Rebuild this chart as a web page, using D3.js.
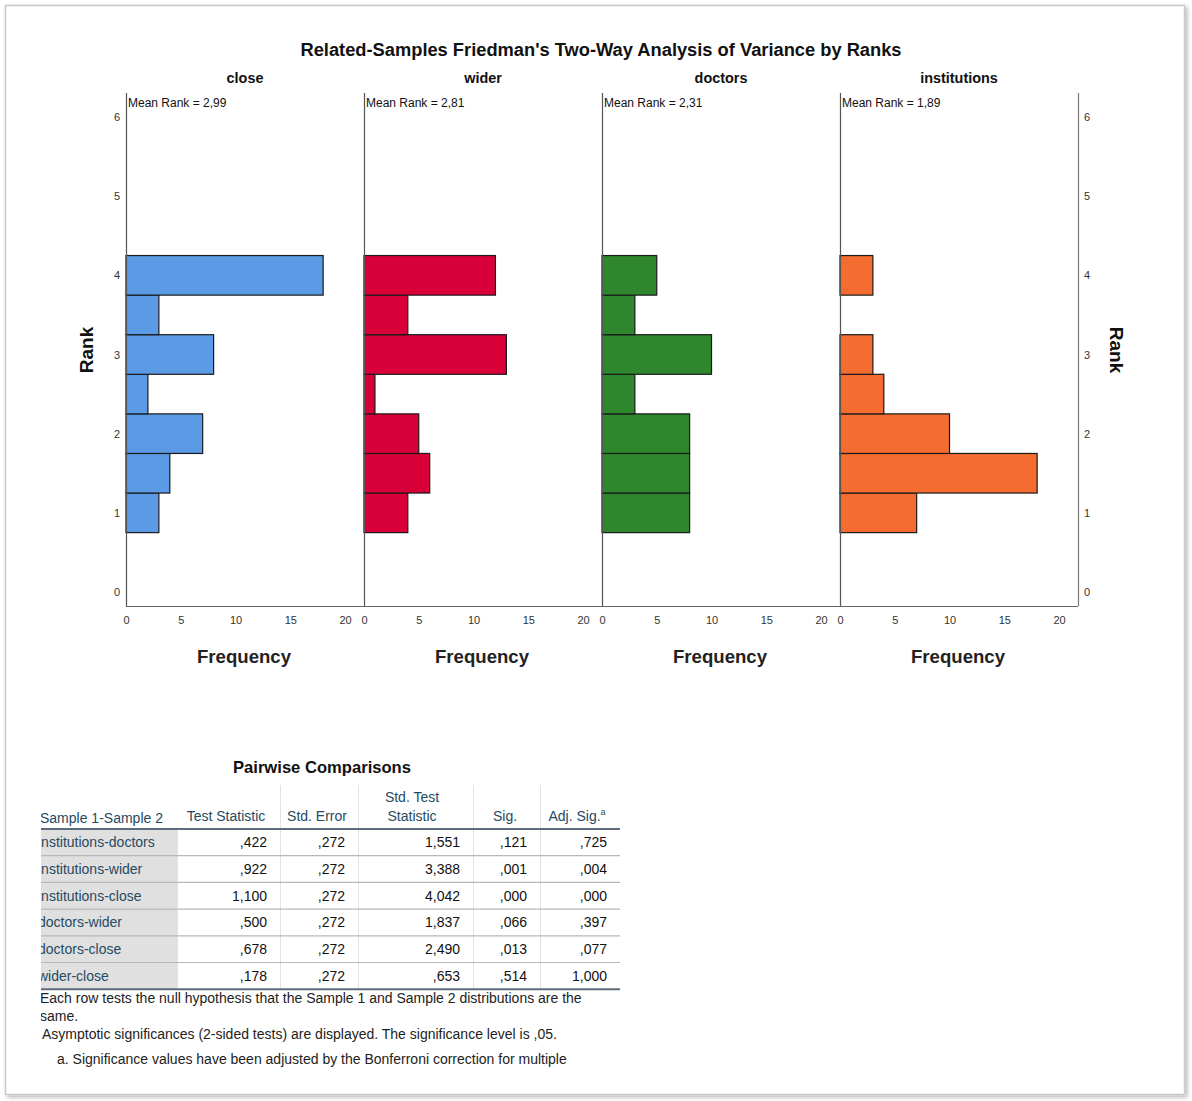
<!DOCTYPE html>
<html>
<head>
<meta charset="utf-8">
<script src="https://cdn.jsdelivr.net/npm/d3@7"></script>
<style>
body { margin: 0; background: #fff; }
svg text { font-family: "Liberation Sans", Arial, sans-serif; }
.tick text { fill: #333; font-size: 11px; }
</style>
</head>
<body>
<svg id="chart" width="1192" height="1101"></svg>
<script>

/// Histogram data: frequency per rank bin (bins centred at 1, 1.5 ... 4)
var rankBins = [1, 1.5, 2, 2.5, 3, 3.5, 4];
var panels = ["close", "wider", "doctors", "institutions"];
var meanRanks = ["2,99", "2,81", "2,31", "1,89"];
var freqClose = [3, 4, 7, 2, 8, 3, 18];
var freqWider = [4, 6, 5, 1, 13, 4, 12];
var freqDoctors = [8, 8, 8, 3, 10, 3, 5];
var freqInstitutions = [7, 18, 10, 4, 3, 0, 3];
var panelColors = ["#5b9be6", "#d9003a", "#2e872c", "#f46c30"];
var rankTicks = [0, 1, 2, 3, 4, 5, 6];
var freqTicks = [0, 5, 10, 15, 20];

/// Pairwise comparisons table
var pairLabels = ["institutions-doctors", "institutions-wider", "institutions-close",
                  "doctors-wider", "doctors-close", "wider-close"];
var testStat = [",422", ",922", "1,100", ",500", ",678", ",178"];
var stdError = [",272", ",272", ",272", ",272", ",272", ",272"];
var stdTestStat = ["1,551", "3,388", "4,042", "1,837", "2,490", ",653"];
var sig = [",121", ",001", ",000", ",066", ",013", ",514"];
var adjSig = [",725", ",004", ",000", ",397", ",077", "1,000"];

var freqs = [freqClose, freqWider, freqDoctors, freqInstitutions];

var svg = d3.select("#chart");

/// frame with a soft shadow
var defs = svg.append("defs");
var f = defs.append("filter").attr("id", "shadow").attr("x", "-5%").attr("y", "-5%").attr("width", "110%").attr("height", "110%");
f.append("feDropShadow").attr("dx", 2).attr("dy", 2).attr("stdDeviation", 2).attr("flood-color", "#000").attr("flood-opacity", 0.3);
svg.append("rect")
    .attr("x", 5.5).attr("y", 5.5).attr("width", 1179).attr("height", 1089)
    .attr("fill", "#fff").attr("stroke", "#c8c8c8").attr("stroke-width", 1.5)
    .attr("filter", "url(#shadow)");

/// layout
var plotLeft = 126, panelW = 238, plotTop = 93, plotBottom = 606;

var y = d3.scaleLinear().domain([0, 6]).range([592, 117]);
var x = d3.scaleLinear().domain([0, 21.73]).range([0, panelW]);

svg.append("text")
    .attr("x", 601).attr("y", 56)
    .attr("text-anchor", "middle")
    .attr("font-size", "18.3px").attr("font-weight", "bold").attr("fill", "#111")
    .text("Related-Samples Friedman's Two-Way Analysis of Variance by Ranks");

panels.forEach(function(name, i) {
    var g = svg.append("g").attr("transform", "translate(" + (plotLeft + i * panelW) + ",0)");

    g.append("text")
        .attr("x", panelW / 2).attr("y", 83)
        .attr("text-anchor", "middle")
        .attr("font-size", "14.4px").attr("font-weight", "bold").attr("fill", "#111")
        .text(name);

    g.selectAll("rect.bar")
        .data(rankBins.map(function(r, j) { return {r: r, f: freqs[i][j]}; }).filter(function(d) { return d.f > 0; }))
      .enter().append("rect")
        .attr("class", "bar")
        .attr("x", x(0))
        .attr("y", function(d) { return y(d.r + 0.25); })
        .attr("width", function(d) { return x(d.f) - x(0); })
        .attr("height", function(d) { return y(d.r - 0.25) - y(d.r + 0.25); })
        .attr("fill", panelColors[i])
        .attr("stroke", "#1a1a1a").attr("stroke-width", 1.2);

    /// left edge line of the panel
    g.append("line")
        .attr("x1", 0.5).attr("x2", 0.5)
        .attr("y1", plotTop).attr("y2", plotBottom)
        .attr("stroke", "#555").attr("stroke-width", 1.2);

    g.append("text")
        .attr("x", 2).attr("y", 107)
        .attr("font-size", "12px").attr("fill", "#111")
        .text("Mean Rank = " + meanRanks[i]);

    var xAxis = d3.axisBottom(x).tickValues(freqTicks).tickSize(0).tickPadding(10);
    g.append("g")
        .attr("class", "axis axis--x")
        .attr("transform", "translate(0," + plotBottom + ")")
        .call(xAxis)
        .call(function(a) { a.select(".domain").remove(); });

    g.append("text")
        .attr("x", panelW / 2 - 1).attr("y", 663)
        .attr("text-anchor", "middle")
        .attr("font-size", "18.6px").attr("font-weight", "bold").attr("fill", "#222")
        .text("Frequency");
});

var plotRight = plotLeft + panels.length * panelW;

/// bottom axis line and right edge
svg.append("line")
    .attr("x1", plotLeft).attr("x2", plotRight)
    .attr("y1", plotBottom + 0.5).attr("y2", plotBottom + 0.5)
    .attr("stroke", "#666").attr("stroke-width", 1.2);
svg.append("line")
    .attr("x1", plotRight + 0.5).attr("x2", plotRight + 0.5)
    .attr("y1", plotTop).attr("y2", plotBottom)
    .attr("stroke", "#777").attr("stroke-width", 1.2);

var yAxisL = d3.axisLeft(y).tickValues(rankTicks).tickFormat(d3.format("d")).tickSize(0).tickPadding(6);
svg.append("g")
    .attr("class", "axis axis--y")
    .attr("transform", "translate(" + plotLeft + ",0)")
    .call(yAxisL)
    .call(function(a) { a.select(".domain").remove(); });

var yAxisR = d3.axisRight(y).tickValues(rankTicks).tickFormat(d3.format("d")).tickSize(0).tickPadding(6);
svg.append("g")
    .attr("class", "axis axis--y")
    .attr("transform", "translate(" + plotRight + ",0)")
    .call(yAxisR)
    .call(function(a) { a.select(".domain").remove(); });

svg.append("text")
    .attr("transform", "translate(93,350) rotate(-90)")
    .attr("text-anchor", "middle")
    .attr("font-size", "19px").attr("font-weight", "bold").attr("fill", "#111")
    .text("Rank");
svg.append("text")
    .attr("transform", "translate(1110,350) rotate(90)")
    .attr("text-anchor", "middle")
    .attr("font-size", "19px").attr("font-weight", "bold").attr("fill", "#111")
    .text("Rank");

/// ---- Pairwise comparisons table ----
var colEdges = [41, 177, 280, 358, 473, 540, 620];
var headTop = 785, headBottom = 829, rowH = 26.7;
var tableColor = "#264a60";
var columns = [testStat, stdError, stdTestStat, sig, adjSig];

var t = svg.append("g").attr("class", "table");

t.append("text")
    .attr("x", 322).attr("y", 773)
    .attr("text-anchor", "middle")
    .attr("font-size", "16.6px").attr("font-weight", "bold").attr("fill", "#111")
    .text("Pairwise Comparisons");

defs.append("clipPath").attr("id", "tclip")
  .append("rect").attr("x", colEdges[0]).attr("y", 700).attr("width", 700).attr("height", 390);

var rowY = function(k) { return headBottom + k * rowH; };

/// row header background
t.append("rect")
    .attr("x", colEdges[0]).attr("y", headBottom)
    .attr("width", colEdges[1] - colEdges[0]).attr("height", rowH * pairLabels.length)
    .attr("fill", "#e0e0e0");

/// vertical separators (header + body)
colEdges.slice(2, 6).forEach(function(cx) {
    t.append("line")
        .attr("x1", cx + 0.5).attr("x2", cx + 0.5)
        .attr("y1", headTop).attr("y2", rowY(pairLabels.length))
        .attr("stroke", "#e2e2e2");
});
t.append("line")
    .attr("x1", colEdges[1] + 0.5).attr("x2", colEdges[1] + 0.5)
    .attr("y1", headBottom).attr("y2", rowY(pairLabels.length))
    .attr("stroke", "#e2e2e2");

/// row separators
d3.range(1, pairLabels.length).forEach(function(k) {
    t.append("line")
        .attr("x1", colEdges[0]).attr("x2", colEdges[6])
        .attr("y1", rowY(k)).attr("y2", rowY(k))
        .attr("stroke", "#b8b8b8").attr("stroke-width", 1.2);
});

t.append("line")
    .attr("x1", colEdges[0]).attr("x2", colEdges[6])
    .attr("y1", headBottom).attr("y2", headBottom)
    .attr("stroke", "#5d6d7c").attr("stroke-width", 2);
t.append("line")
    .attr("x1", colEdges[0]).attr("x2", colEdges[6])
    .attr("y1", rowY(pairLabels.length)).attr("y2", rowY(pairLabels.length))
    .attr("stroke", "#5d6d7c").attr("stroke-width", 2);

/// header texts
var hdr = t.append("g").attr("font-size", "14px").attr("fill", tableColor);
hdr.append("text").attr("x", 40).attr("y", 823).attr("clip-path", "url(#tclip)").text("Sample 1-Sample 2");
hdr.append("text").attr("x", 226).attr("y", 821).attr("text-anchor", "middle").text("Test Statistic");
hdr.append("text").attr("x", 317).attr("y", 821).attr("text-anchor", "middle").text("Std. Error");
hdr.append("text").attr("x", 412).attr("y", 802).attr("text-anchor", "middle").text("Std. Test");
hdr.append("text").attr("x", 412).attr("y", 821).attr("text-anchor", "middle").text("Statistic");
hdr.append("text").attr("x", 505).attr("y", 821).attr("text-anchor", "middle").text("Sig.");
var adj = hdr.append("text").attr("x", 577).attr("y", 821).attr("text-anchor", "middle");
adj.append("tspan").text("Adj. Sig.");
adj.append("tspan").attr("dy", -6).attr("font-size", "9px").text("a");

/// body
pairLabels.forEach(function(lbl, k) {
    var cy = rowY(k) + rowH / 2 + 5;
    t.append("text")
        .attr("x", 38).attr("y", cy)
        .attr("clip-path", "url(#tclip)")
        .attr("font-size", "14px").attr("fill", tableColor)
        .text(lbl);
    columns.forEach(function(col, c) {
        t.append("text")
            .attr("x", colEdges[c + 2] - 13).attr("y", cy)
            .attr("text-anchor", "end")
            .attr("font-size", "14px").attr("fill", "#111")
            .text(col[k]);
    });
});

/// footnotes
var notes = [
    {x: 40, y: 1003, s: "Each row tests the null hypothesis that the Sample 1 and Sample 2 distributions are the"},
    {x: 40, y: 1021, s: "same."},
    {x: 42, y: 1039, s: "Asymptotic significances (2-sided tests) are displayed. The significance level is ,05."},
    {x: 57, y: 1064, s: "a. Significance values have been adjusted by the Bonferroni correction for multiple"}
];
notes.forEach(function(n) {
    t.append("text")
        .attr("x", n.x).attr("y", n.y)
        .attr("clip-path", "url(#tclip)")
        .attr("font-size", "14px").attr("fill", "#222")
        .text(n.s);
});

</script>
</body>
</html>
